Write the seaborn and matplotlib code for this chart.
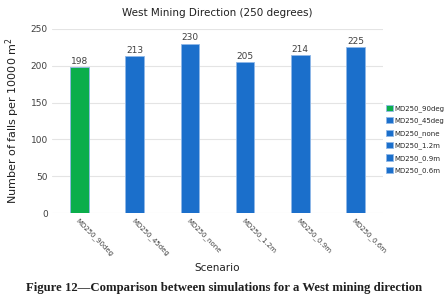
import matplotlib
matplotlib.use("Agg")
import matplotlib.pyplot as plt
import seaborn as sns
import pandas as pd

scenarios = ["MD250_90deg", "MD250_45deg", "MD250_none", "MD250_1.2m", "MD250_0.9m", "MD250_0.6m"]
falls = [198, 213, 230, 205, 214, 225]
colors = ["#0BAE4B", "#1B6FCB", "#1B6FCB", "#1B6FCB", "#1B6FCB", "#1B6FCB"]
yticks = [0, 50, 100, 150, 200, 250]

sns.set_theme(style="white")
plt.rcParams["font.family"] = ["DejaVu Sans"]

df = pd.DataFrame({"Scenario": scenarios, "Falls": falls})

fig = plt.figure(figsize=(4.48, 3.07), dpi=100)
ax = fig.add_axes([0.116, 0.306, 0.739, 0.6])

sns.barplot(data=df, x="Scenario", y="Falls", hue="Scenario", palette=colors,
            dodge=False, width=0.34, ax=ax, legend=True, saturation=1,
            edgecolor="#8FB8E8", linewidth=0.6)

ax.set_ylim(0, 250)
ax.set_yticks(yticks)
ax.set_yticklabels([str(v) for v in yticks], fontsize=6.5, color="#404040")
ax.yaxis.grid(True, color="#E4E4E4", linewidth=0.8)
ax.set_axisbelow(True)
for s in ax.spines.values():
    s.set_visible(False)
ax.tick_params(axis="both", length=0, pad=3)
ax.set_xticks(range(len(scenarios)))
ax.set_xticklabels(scenarios, rotation=-45, ha="left", rotation_mode="anchor",
                   fontsize=5, color="#404040")

for cont in ax.containers:
    ax.bar_label(cont, fontsize=6.5, color="#404040", padding=1)

ax.set_xlabel("Scenario", fontsize=7.5, color="#202020", labelpad=4)
ax.set_ylabel("Number of falls per 10000 m$^2$", fontsize=8, color="#202020", labelpad=6)
ax.set_title("West Mining Direction (250 degrees)", fontsize=7.5, color="#202020", pad=9)

leg = ax.legend(loc="center left", bbox_to_anchor=(1.0, 0.4), frameon=False,
                fontsize=5, handlelength=1.0, handleheight=1.0, handletextpad=0.3,
                labelspacing=0.75, borderaxespad=0)

fig.text(0.5, 0.062, "Figure 12\u2014Comparison between simulations for a West mining direction",
         ha="center", va="center", fontsize=9.2, fontweight="bold", family="Liberation Serif",
         color="#202020")

fig.savefig("out.png", dpi=100)
